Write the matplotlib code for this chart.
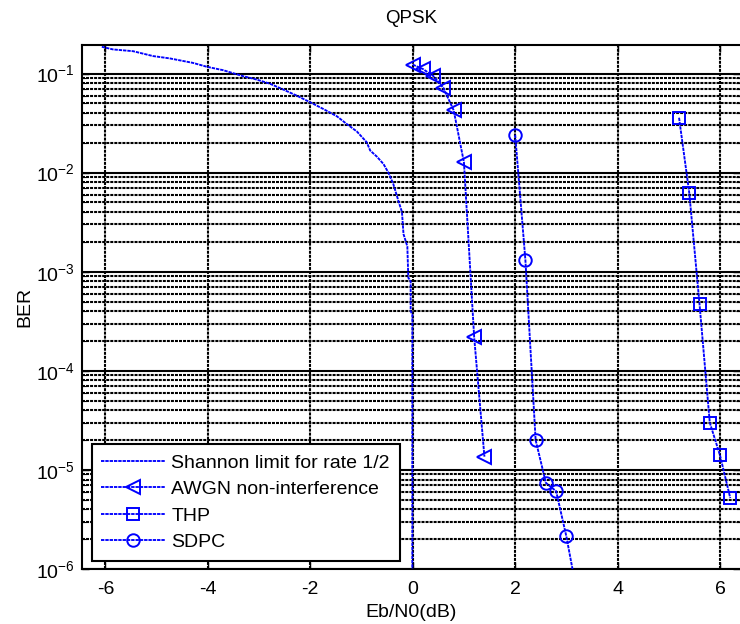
import matplotlib
matplotlib.use("Agg")
import matplotlib.pyplot as plt
import numpy as np

plt.rcParams['font.family'] = ['Liberation Sans', 'DejaVu Sans']
plt.rcParams['mathtext.fontset'] = 'custom'
plt.rcParams['mathtext.rm'] = 'Liberation Sans'
plt.rcParams['mathtext.it'] = 'Liberation Sans'
plt.rcParams['axes.unicode_minus'] = False

# ---- data ----
shannon_x = [-6.07, -5.85, -5.46, -5.07, -4.74, -4.29, -4.02, -3.70, -3.31, -3.05,
             -2.79, -2.53, -2.27, -2.01, -1.75, -1.48, -1.29, -1.09, -0.90, -0.83,
             -0.70, -0.57, -0.48, -0.38, -0.28, -0.21, -0.18, -0.105, -0.086, -0.04,
             -0.04, -0.008, -0.008, -0.005]
shannon_ber = [0.186, 0.175, 0.168, 0.150, 0.142, 0.128, 0.117, 0.108, 0.094, 0.087,
               0.079, 0.069, 0.060, 0.0515, 0.044, 0.037, 0.031, 0.026, 0.0203, 0.0167,
               0.0145, 0.0122, 0.0101, 0.0077, 0.0052, 0.0040, 0.0024, 0.0018, 0.00087, 0.0008,
               0.0004, 0.00037, 1.0e-6, 1.0e-7]

awgn_x = [0.0, 0.2, 0.4, 0.6, 0.8, 1.0, 1.2, 1.4]
awgn_ber = [0.123, 0.111, 0.0946, 0.0715, 0.0425, 0.0127, 2.18e-4, 1.36e-5]

thp_x = [5.2, 5.4, 5.6, 5.8, 6.0, 6.2]
thp_ber = [0.0358, 0.0062, 4.7e-4, 3.0e-5, 1.4e-5, 5.2e-6]

sdpc_x = [2.0, 2.2, 2.4, 2.6, 2.8, 3.0, 3.2]
sdpc_ber = [0.0241, 1.31e-3, 2.0e-5, 7.4e-6, 6.1e-6, 2.13e-6, 6.0e-7]

labels = ['Shannon limit for rate 1/2', 'AWGN non-interference', 'THP', 'SDPC']
xticks = [-6, -4, -2, 0, 2, 4, 6]
yticks = [1e-6, 1e-5, 1e-4, 1e-3, 1e-2, 1e-1]
ytick_labels = [r'$\mathregular{10^{-6}}$', r'$\mathregular{10^{-5}}$', r'$\mathregular{10^{-4}}$',
                r'$\mathregular{10^{-3}}$', r'$\mathregular{10^{-2}}$', r'$\mathregular{10^{-1}}$']

# ---- figure ----
fig = plt.figure(figsize=(7.4, 6.24), dpi=100)
ax = fig.add_axes([82 / 740, 1 - 569 / 624, (740 - 82) / 740, (569 - 45) / 624])
ax.set_yscale('log')
ax.set_xlim(-6.457, 6.39)
ax.set_ylim(1e-6, 0.194)

blue = (0, 0, 1)
ls = (0, (1.8, 0.5))
lw = 1.35
ax.plot(shannon_x, shannon_ber, color=blue, lw=lw, ls=ls, label=labels[0], zorder=3)
ax.plot(awgn_x, awgn_ber, color=blue, lw=lw, ls=ls, marker='<', ms=9.5, mfc='none',
        mew=1.4, label=labels[1], zorder=3)
ax.plot(thp_x, thp_ber, color=blue, lw=lw, ls=ls, marker='s', ms=9, mfc='none',
        mew=1.4, label=labels[2], zorder=3, clip_on=False)
ax.plot(sdpc_x, sdpc_ber, color=blue, lw=lw, ls=ls, marker='o', ms=9, mfc='none',
        mew=1.4, label=labels[3], zorder=3)

# grid
gls = (0, (1.44, 0.5))
glw = 1.5
for xv in xticks:
    ax.axvline(xv, color='k', lw=glw, ls=gls, zorder=1)
for k in range(-6, 0):
    for m in range(2, 10):
        v = m * 10.0 ** k
        if v < 0.194:
            ax.axhline(v, color='k', lw=glw, ls=gls, zorder=1)
    ax.axhline(10.0 ** k, color='k', lw=1.5, zorder=1)

ax.set_xticks(xticks)
ax.set_xticklabels([str(t) for t in xticks])
ax.set_yticks(yticks)
ax.set_yticklabels(ytick_labels)
ax.tick_params(which='both', direction='in', top=True, right=True, labelsize=14)
ax.tick_params(which='major', length=5, width=1.0)
ax.tick_params(axis='x', which='major', pad=9)
ax.tick_params(axis='y', which='major', pad=5)
ax.tick_params(which='minor', length=3, width=0.8)
for s in ['left', 'bottom', 'top']:
    ax.spines[s].set_linewidth(1.5)
ax.spines['right'].set_visible(False)

ax.set_xlabel('Eb/N0(dB)', fontsize=14, labelpad=4)
ax.set_ylabel('BER', fontsize=14, labelpad=2)
ax.set_title('QPSK', fontsize=13.5, pad=16)

leg = ax.legend(loc='lower left', bbox_to_anchor=(0.0147, 0.0153), borderaxespad=0,
                fontsize=14, handlelength=3.25, handletextpad=0.35, labelspacing=0.46,
                borderpad=0.5, fancybox=False, framealpha=1, edgecolor='k')
leg.get_frame().set_linewidth(1.5)

fig.savefig('out.png', dpi=100)
